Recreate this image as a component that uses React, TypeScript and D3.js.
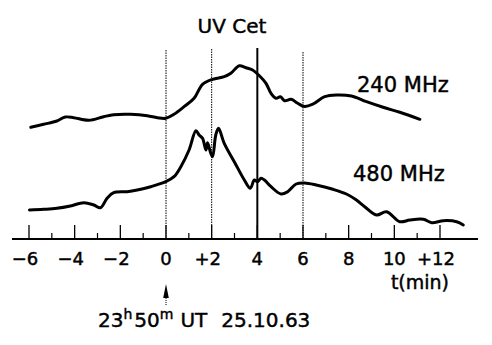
import React from "react";
import * as d3 from "d3";

// time in minutes relative to 23h50m UT
const t240 = [-5.92, -5.36, -4.78, -4.41, -4.04, -3.38, -2.73, -2.29, -1.55, -0.82, -0.38, -0.01, 0.35, 0.79, 1.23, 1.6, 2.04, 2.55, 2.84, 3.21, 3.5, 3.79, 4.09, 4.38, 4.6, 4.82, 5.01, 5.19, 5.48, 5.77, 6.07, 6.43, 6.95, 7.46, 8.12, 8.78, 9.51, 10.24, 11.12];
const v240 = [111.7, 114.7, 118, 122, 121.3, 118.7, 122.3, 124.3, 124.7, 123.3, 121.3, 120.7, 124.7, 132.3, 140.7, 154.7, 159.7, 162.3, 165.7, 173.3, 171.3, 169, 163.3, 155.7, 145.7, 140.7, 142.3, 138.3, 139.7, 135.7, 132.5, 134.8, 142.3, 144, 143, 137.3, 131.7, 126.7, 119.7];

const t480 = [-5.98, -5.36, -4.78, -4.19, -3.6, -3.16, -2.87, -2.58, -2.29, -1.7, -1.26, -0.67, -0.01, 0.35, 0.65, 1.01, 1.31, 1.45, 1.6, 1.75, 1.82, 1.96, 2.04, 2.18, 2.3, 2.55, 2.99, 3.43, 3.69, 3.87, 4.01, 4.16, 4.31, 4.6, 5.04, 5.33, 5.7, 6.07, 6.58, 7.31, 7.9, 8.34, 8.7, 9.22, 9.66, 10.24, 10.68, 11.27, 11.64, 12.15, 12.73, 13.02];
const v480 = [29, 29.7, 30.7, 33, 36.3, 34, 31.3, 40.7, 46.3, 47.3, 49, 52.3, 57.3, 62.3, 72.3, 89, 108.3, 104, 100.7, 89, 96.3, 85.7, 82.3, 104, 110.7, 95.7, 77.3, 59, 50.7, 59, 57.3, 60.7, 59, 52.3, 45, 47.3, 55, 56, 54, 49.7, 45, 39, 32.3, 24, 27.3, 17.3, 19, 19.7, 16.3, 18.3, 17.3, 14];

const majorTicks = [-6, -4, -2, 0, 2, 4, 6, 8, 10, 12];
const minorTicks = [-5, -3, -1, 1, 3, 5, 7, 9, 11];
const tickLabels = ["\u22126", "\u22124", "\u22122", "0", "+2", "4", "6", "8", "10", "+12"];

const markerTimes = [0, 2, 4, 6];
const markerTops = [189, 190, 191, 187];
const markerSolid = [false, false, true, false];

const FONT = "DejaVu Sans, sans-serif";
const TXT = { fill: "#000", stroke: "#000", strokeWidth: 0.45 };

export default function App() {
  const W = 492, H = 345;
  const x = d3.scaleLinear().domain([-6, 12]).range([29, 440]);
  const y = d3.scaleLinear().domain([0, 200]).range([239, 39]);
  const line = d3
    .line<[number, number]>()
    .x((d) => x(d[0]))
    .y((d) => y(d[1]))
    .curve(d3.curveCatmullRom.alpha(0.5));
  const d240 = line(t240.map((t, i) => [t, v240[i]] as [number, number])) || "";
  const d480 = line(t480.map((t, i) => [t, v480[i]] as [number, number])) || "";
  const y0 = y(0);

  return (
    <svg
      width={W}
      height={H}
      style={{ position: "absolute", left: 0, top: 0, background: "#fff" }}
      fontFamily={FONT}
    >
      <rect width={W} height={H} fill="#fff" />
      {/* vertical marker lines */}
      {markerTimes.map((t, i) => (
        <line
          key={"m" + t}
          x1={x(t)}
          x2={x(t)}
          y1={y(markerTops[i])}
          y2={y0}
          stroke="#000"
          strokeWidth={markerSolid[i] ? 2 : 1}
          strokeDasharray={markerSolid[i] ? undefined : "1.5,1"}
        />
      ))}
      {/* axis */}
      <line x1={12} x2={478} y1={y0} y2={y0} stroke="#000" strokeWidth={2} />
      {majorTicks.map((t) => (
        <line
          key={"M" + t}
          x1={x(t)}
          x2={x(t)}
          y1={y0}
          y2={y0 - 14}
          stroke="#000"
          strokeWidth={1.3}
        />
      ))}
      {minorTicks.map((t) => (
        <line
          key={"n" + t}
          x1={x(t)}
          x2={x(t)}
          y1={y0}
          y2={y0 - 6}
          stroke="#000"
          strokeWidth={1.2}
        />
      ))}
      {majorTicks.map((t, i) => (
        <text
          key={"l" + t}
          x={x(t) - (tickLabels[i].startsWith("\u2212") || tickLabels[i].startsWith("+") ? 4 : 0)}
          y={265}
          fontSize={18}
          textAnchor="middle"
          {...TXT}
        >
          {tickLabels[i]}
        </text>
      ))}
      <text x={449} y={289} fontSize={19} textAnchor="end" {...TXT}>
        t(min)
      </text>

      {/* curves */}
      <path d={d240} fill="none" stroke="#000" strokeWidth={3} strokeLinejoin="round" strokeLinecap="round" />
      <path d={d480} fill="none" stroke="#000" strokeWidth={3} strokeLinejoin="round" strokeLinecap="round" />

      {/* labels */}
      <text x={232} y={33} fontSize={20} textAnchor="middle" {...TXT}>
        UV Cet
      </text>
      <text x={357} y={92} fontSize={21} {...TXT}>
        240 MHz
      </text>
      <text x={353} y={181} fontSize={21} {...TXT}>
        480 MHz
      </text>

      {/* arrow at t = 0 */}
      <line x1={x(0)} x2={x(0)} y1={296} y2={305} stroke="#000" strokeWidth={1} strokeDasharray="1,1" />
      <path
        d={`M${x(0)},284 L${x(0) - 2.8},298 L${x(0) + 2.8},298 Z`}
        fill="#000"
      />
      <text x={98} y={327} fontSize={20} {...TXT}>
        <tspan>23</tspan>
        <tspan fontSize={14} dy={-8}>h</tspan>
        <tspan dy={8} dx={2}>50</tspan>
        <tspan fontSize={14} dy={-8}>m</tspan>
        <tspan dy={8} dx={7}>UT</tspan>
        <tspan dx={14}>25.10.63</tspan>
      </text>
    </svg>
  );
}
